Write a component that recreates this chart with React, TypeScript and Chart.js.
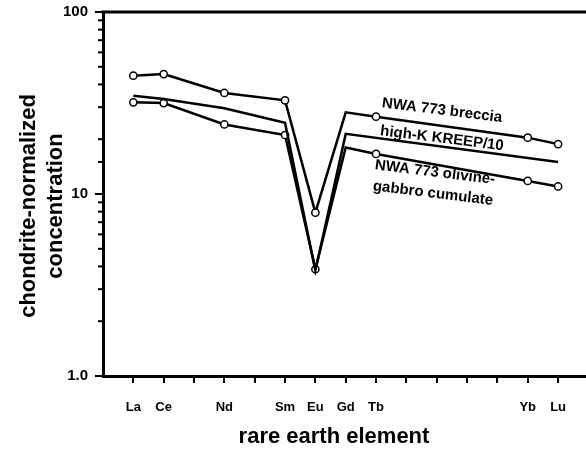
import React, { useEffect, useRef } from 'react';
import { Chart, registerables } from 'chart.js';
Chart.register(...registerables);

const elements = ['La', 'Ce', 'Pr', 'Nd', 'Pm', 'Sm', 'Eu', 'Gd', 'Tb', 'Dy', 'Ho', 'Er', 'Tm', 'Yb', 'Lu'];
const shownLabels = ['La', 'Ce', 'Nd', 'Sm', 'Eu', 'Gd', 'Tb', 'Yb', 'Lu'];
const markedElements = ['La', 'Ce', 'Nd', 'Sm', 'Eu', 'Tb', 'Yb', 'Lu'];
const breccia = [44.7, 45.6, null, 35.9, null, 32.7, 7.9, 28.1, 26.6, null, null, null, null, 20.4, 18.8];
const kreep = [34.7, 33.3, null, 29.6, null, 24.6, 3.8, 21.4, null, null, null, null, null, null, 15.0];
const olivine = [31.9, 31.6, null, 24.1, null, 21.1, 3.86, 18.0, 16.6, null, null, null, null, 11.8, 11.0];
const yTickLabels: Record<number, string> = { 1: '1.0', 10: '10', 100: '100' };
const seriesNames = ['NWA 773 breccia', 'high-K KREEP/10', 'NWA 773 olivine-gabbro cumulate'];
const annotationLines = [
  { text: 'NWA 773 breccia', x: 442, y: 110.5 },
  { text: 'high-K KREEP/10', x: 442, y: 138.5 },
  { text: 'NWA 773 olivine-', x: 435, y: 172.5 },
  { text: 'gabbro cumulate', x: 433, y: 193.5 },
];

const FONT = '"Liberation Sans", Arial, Helvetica, sans-serif';

function toPoints(arr: (number | null)[]) {
  const pts: { x: number; y: number }[] = [];
  arr.forEach((v, i) => {
    if (v !== null) pts.push({ x: i, y: v });
  });
  return pts;
}

const framePlugin = {
  id: 'framePlugin',
  afterDraw(chart: any) {
    const { ctx, chartArea, scales } = chart;
    const y = scales.y;
    ctx.save();
    ctx.strokeStyle = '#000';
    // top frame line
    ctx.lineWidth = 3;
    ctx.beginPath();
    ctx.moveTo(chartArea.left - 1.5, chartArea.top);
    ctx.lineTo(chartArea.right, chartArea.top);
    ctx.stroke();
    // y tick marks
    ctx.lineWidth = 2;
    y.ticks.forEach((t: any) => {
      const py = y.getPixelForValue(t.value);
      const lg = Math.log10(t.value);
      const major = Math.abs(lg - Math.round(lg)) < 1e-6;
      const len = major ? 8 : 5;
      ctx.beginPath();
      ctx.moveTo(chartArea.left - len, py);
      ctx.lineTo(chartArea.left, py);
      ctx.stroke();
    });
    // annotations
    ctx.fillStyle = '#000';
    ctx.font = `bold 15px ${FONT}`;
    ctx.textAlign = 'center';
    ctx.textBaseline = 'middle';
    annotationLines.forEach((a) => {
      ctx.save();
      ctx.translate(a.x, a.y);
      ctx.rotate((7 * Math.PI) / 180);
      ctx.fillText(a.text, 0, 0);
      ctx.restore();
    });
    // axis titles
    ctx.font = `bold 22px ${FONT}`;
    ctx.textBaseline = 'alphabetic';
    ctx.textAlign = 'center';
    ctx.fillText('rare earth element', 334, 443);
    const yLines = ['chondrite-normalized', 'concentration'];
    const xs = [35, 62];
    yLines.forEach((txt, i) => {
      ctx.save();
      ctx.translate(xs[i], 206);
      ctx.rotate(-Math.PI / 2);
      ctx.fillText(txt, 0, 0);
      ctx.restore();
    });
    ctx.restore();
  },
};

export default function App() {
  const ref = useRef<HTMLCanvasElement>(null);
  useEffect(() => {
    if (!ref.current) return;
    const mk = (label: string, arr: (number | null)[], markers: boolean) => ({
      label,
      data: toPoints(arr),
      borderColor: '#000',
      borderWidth: 2.5,
      backgroundColor: '#fff',
      pointBackgroundColor: '#fff',
      pointBorderColor: '#000',
      pointBorderWidth: 1.5,
      pointRadius: (c: any) =>
        markers && c.raw && markedElements.includes(elements[c.raw.x]) ? 3.6 : 0,
      tension: 0,
      fill: false,
      spanGaps: true,
    });
    const chart = new Chart(ref.current, {
      type: 'line',
      data: {
        datasets: [
          mk(seriesNames[1], kreep, false),
          mk(seriesNames[2], olivine, true),
          mk(seriesNames[0], breccia, true),
        ],
      },
      options: {
        animation: false,
        responsive: false,
        devicePixelRatio: 1,
        layout: { autoPadding: false, padding: { top: 12, right: 0, bottom: 0, left: 0 } },
        plugins: { legend: { display: false }, tooltip: { enabled: false } },
        scales: {
          x: {
            type: 'linear',
            min: -1,
            max: 14.92,
            afterBuildTicks: (s: any) => {
              s.ticks = elements.map((_, i) => ({ value: i }));
            },
            afterFit: (s: any) => {
              s.height = 73;
              s.paddingLeft = 0;
              s.paddingRight = 0;
            },
            grid: {
              display: true,
              drawOnChartArea: false,
              drawTicks: true,
              tickLength: 7,
              color: '#000',
              lineWidth: 2,
            },
            border: { display: true, color: '#000', width: 3 },
            ticks: {
              autoSkip: false,
              maxRotation: 0,
              padding: 17,
              color: '#000',
              font: { family: FONT, size: 13, weight: 'bold' },
              callback: (v: any) => {
                const e = elements[Math.round(Number(v))];
                return e && shownLabels.includes(e) ? e : '';
              },
            },
          },
          y: {
            type: 'logarithmic',
            min: 1,
            max: 100,
            afterFit: (s: any) => {
              s.width = 103;
              s.paddingTop = 0;
              s.paddingBottom = 0;
            },
            grid: { display: true, drawOnChartArea: false, drawTicks: false },
            border: { display: true, color: '#000', width: 3 },
            ticks: {
              autoSkip: false,
              padding: 15,
              color: '#000',
              font: { family: FONT, size: 15, weight: 'bold' },
              callback: (v: any) => yTickLabels[Number(v)] ?? '',
            },
          },
        },
      },
      plugins: [framePlugin],
    });
    return () => chart.destroy();
  }, []);
  return (
    <div style={{ position: 'fixed', left: 0, top: 0, width: 586, height: 449, background: '#fff' }}>
      <canvas ref={ref} width={586} height={449} style={{ display: 'block' }} />
    </div>
  );
}
